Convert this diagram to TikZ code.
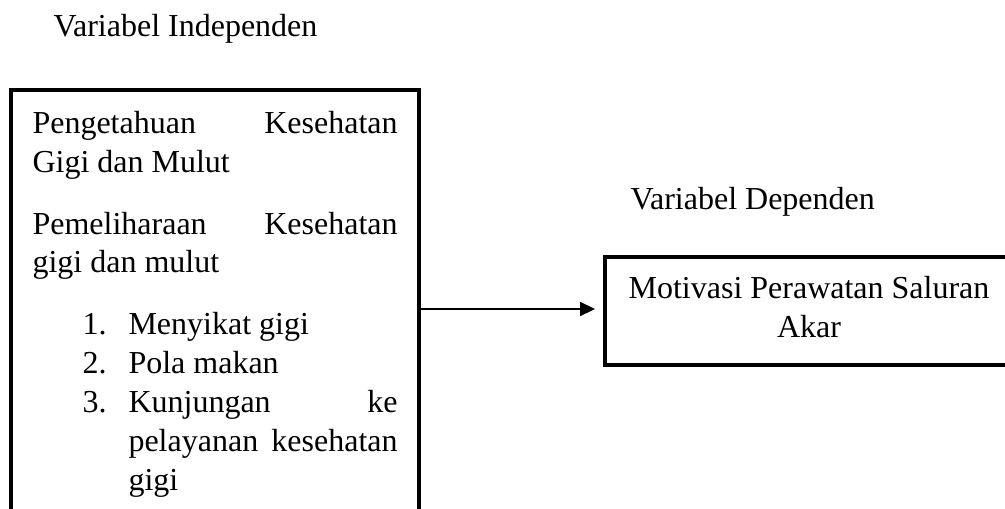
\documentclass[tikz,border=0pt]{standalone}
\usepackage{fontspec}
\setmainfont{Liberation Serif}
\usepackage{tikz}
\usetikzlibrary{calc,arrows.meta,positioning}

\tikzset{
  teks/.style={inner sep=0pt, font=\fontsize{12}{14.6}\selectfont},
  judul/.style={teks, anchor=base west},
  kotak/.style={draw, line width=1.5pt},
  panah/.style={-{Triangle[length=5.6pt,width=5.3pt]}, line width=0.5pt},
}

\newcommand{\butir}[1]{\par\noindent\llap{\makebox[17.25pt][l]{#1}}}

\begin{document}
\begin{tikzpicture}[x=0.375pt, y=-0.375pt]
              \useasboundingbox (0,0) rectangle (1005,508);
              \clip (0,0) rectangle (1005,508);

              \node[judul] (judul-indep) at (53,36)  {Variabel Independen};
              \node[judul] (judul-dep)   at (630,209) {Variabel Dependen};

              \node[teks, anchor=north west, text width=136.9pt, align=justify] (indep) at (32,111) {%
                \setlength{\parindent}{0pt}\setlength{\parskip}{8.4pt}%
                Pengetahuan Kesehatan\linebreak Gigi dan Mulut\par
                Pemeliharaan Kesehatan\linebreak gigi dan mulut\par
                \leftskip=36pt
                \butir{1.}Menyikat gigi\par\setlength{\parskip}{0pt}%
                \butir{2.}Pola makan
                \butir{3.}Kunjungan ke\linebreak pelayanan kesehatan\linebreak gigi\par
              };
              \draw[kotak] (11,540) |- (419,90) -- (419,540);
              \coordinate (indep-e) at (419,309);

              \node[kotak, teks, align=center, text depth=3pt, minimum width=153pt, minimum height=40.5pt] (dep) at (809,311)
                {Motivasi Perawatan Saluran\\Akar};

              \draw[panah, shorten >=3pt] (indep-e) -- (indep-e -| dep.west);
            \end{tikzpicture}
\end{document}
